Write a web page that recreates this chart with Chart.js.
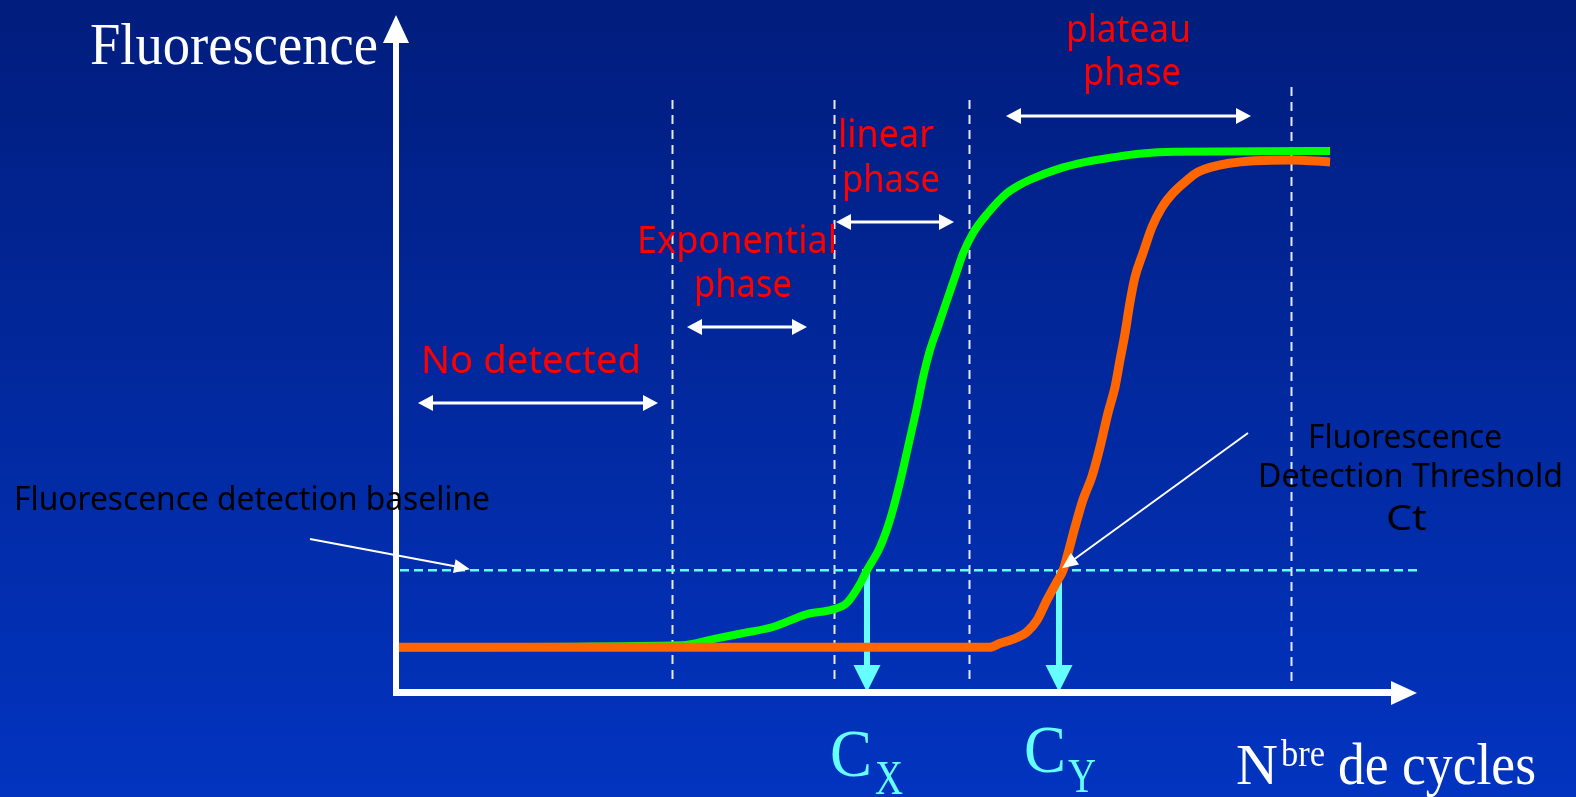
<!DOCTYPE html>
<html>
<head>
<meta charset="utf-8">
<script src="https://cdn.jsdelivr.net/npm/chart.js@4"></script>
<style>
  html, body { margin: 0; padding: 0; overflow: hidden; }
  canvas { display: block; }
</style>
</head>
<body>
<canvas id="pcrChart" width="1576" height="797"></canvas>
<script>
// amplification curves (cycle number, fluorescence in arbitrary units)
const greenCycles = [0, 11.22, 12.43, 13.49, 14.78, 16.12, 17.14, 17.69, 18.2, 18.47,
  18.98, 19.37, 19.76, 20.08, 20.43, 20.67, 20.94, 21.25, 21.61, 21.92,
  22.24, 22.63, 23.18, 23.96, 24.45, 24.94, 25.92, 27.06, 28.16, 29.14, 30.55, 36.63];
const greenValues = [6.6, 6.9, 7.8, 8.6, 9.6, 11.5, 12.2, 13.2, 16.0, 18.0,
  21.4, 25.4, 30.9, 36.2, 42.1, 46.5, 50.5, 53.9, 57.9, 61.3,
  64.8, 67.8, 70.6, 73.7, 74.9, 75.8, 77.2, 78.3, 79.0, 79.5, 79.8, 79.9];

const orangeCycles = [0, 23.29, 23.69, 24.2, 24.75, 25.14, 25.53, 25.92, 26.16, 26.31,
  26.63, 26.94, 27.29, 27.61, 27.92, 28.2, 28.39, 28.59, 28.78, 28.98,
  29.29, 29.65, 30.04, 30.47, 31.02, 31.45, 32.67, 35.06, 36.63];
const orangeValues = [6.6, 6.6, 7.2, 7.8, 8.9, 10.6, 13.6, 16.3, 18.0, 19.9,
  24.4, 28.4, 31.8, 36.2, 41.2, 45.1, 49.0, 53.0, 57.5, 61.3,
  64.8, 68.7, 71.6, 73.7, 75.6, 76.8, 78.1, 78.6, 78.3];

// phase boundaries, threshold and Ct (cycles / fluorescence)
const phaseBounds = [10.82, 17.18, 22.47, 35.1];
const threshold = 18;
const ctValues = [18.47, 26.0];
const ctNames = ["X", "Y"];

const redText = "#ff0000";
const cyan = "#66ffff";
const sans = "'Noto Sans', 'DejaVu Sans', sans-serif";
const serif = "'Liberation Serif', 'DejaVu Serif', serif";

function toPoints(xs, ys) {
  return xs.map((x, i) => ({ x: x, y: ys[i] }));
}

// draw text stretched to a given width (left edge, baseline)
function txt(ctx, s, x, y, w, font, color) {
  ctx.save();
  ctx.font = font;
  ctx.fillStyle = color;
  ctx.textAlign = "left";
  ctx.textBaseline = "alphabetic";
  const m = ctx.measureText(s).width;
  ctx.translate(x, y);
  ctx.scale(w / m, 1);
  ctx.fillText(s, 0, 0);
  ctx.restore();
}

function head(ctx, tx, ty, angle, len, half, color) {
  ctx.save();
  ctx.translate(tx, ty);
  ctx.rotate(angle);
  ctx.beginPath();
  ctx.moveTo(0, 0);
  ctx.lineTo(-len, -half);
  ctx.lineTo(-len, half);
  ctx.closePath();
  ctx.fillStyle = color;
  ctx.fill();
  ctx.restore();
}

function doubleArrow(ctx, x1, x2, y) {
  ctx.save();
  ctx.strokeStyle = "#ffffff";
  ctx.lineWidth = 3;
  ctx.beginPath();
  ctx.moveTo(x1 + 10, y);
  ctx.lineTo(x2 - 10, y);
  ctx.stroke();
  ctx.restore();
  head(ctx, x1, y, Math.PI, 15, 8, "#ffffff");
  head(ctx, x2, y, 0, 15, 8, "#ffffff");
}

function pointer(ctx, x1, y1, x2, y2) {
  const a = Math.atan2(y2 - y1, x2 - x1);
  ctx.save();
  ctx.strokeStyle = "#ffffff";
  ctx.lineWidth = 2;
  ctx.beginPath();
  ctx.moveTo(x1, y1);
  ctx.lineTo(x2 - 10 * Math.cos(a), y2 - 10 * Math.sin(a));
  ctx.stroke();
  ctx.restore();
  head(ctx, x2, y2, a, 16, 7, "#ffffff");
}

const background = {
  id: "background",
  beforeDraw(chart) {
    const ctx = chart.ctx;
    const g = ctx.createLinearGradient(0, 0, 0, chart.height);
    g.addColorStop(0, "#011d7d");
    g.addColorStop(1, "#0234c0");
    ctx.save();
    ctx.fillStyle = g;
    ctx.fillRect(0, 0, chart.width, chart.height);
    ctx.restore();
  }
};

const guides = {
  id: "guides",
  beforeDatasetsDraw(chart) {
    const ctx = chart.ctx;
    const xs = chart.scales.x, ys = chart.scales.y;
    const area = chart.chartArea;

    // phase boundaries
    ctx.save();
    ctx.strokeStyle = "rgba(255,255,255,0.9)";
    ctx.lineWidth = 2;
    ctx.setLineDash([9, 6]);
    phaseBounds.forEach((b, i) => {
      const px = Math.round(xs.getPixelForValue(b)) + 0.5;
      ctx.beginPath();
      ctx.moveTo(px, i === 3 ? 87 : 100);
      ctx.lineTo(px, 685);
      ctx.stroke();
    });
    ctx.restore();

    // threshold line
    const ty = ys.getPixelForValue(threshold);
    ctx.save();
    ctx.strokeStyle = cyan;
    ctx.lineWidth = 2.5;
    ctx.setLineDash([9, 5]);
    ctx.beginPath();
    ctx.moveTo(area.left + 4, ty);
    ctx.lineTo(1420, ty);
    ctx.stroke();
    ctx.restore();

    // Ct arrows
    ctValues.forEach(c => {
      const px = xs.getPixelForValue(c);
      ctx.save();
      ctx.fillStyle = cyan;
      ctx.fillRect(px - 3, ty, 6, area.bottom - 26 - ty);
      ctx.restore();
      head(ctx, px, area.bottom, Math.PI / 2, 27, 13.5, cyan);
    });
  },
  afterDatasetsDraw(chart) {
    const ctx = chart.ctx;
    const area = chart.chartArea;
    const ys = chart.scales.y, xs = chart.scales.x;

    // axes
    ctx.save();
    ctx.fillStyle = "#ffffff";
    ctx.fillRect(area.left - 3, 38, 6, area.bottom + 4 - 38);
    ctx.fillRect(area.left - 3, area.bottom - 3, 1395 - area.left, 7);
    ctx.restore();
    head(ctx, area.left, 15, -Math.PI / 2, 28, 13, "#ffffff");
    head(ctx, 1417, area.bottom + 1, 0, 26, 12, "#ffffff");

    // phase arrows
    doubleArrow(ctx, 418, 658, 403);
    doubleArrow(ctx, 687, 807, 327);
    doubleArrow(ctx, 836, 954, 222);
    doubleArrow(ctx, 1006, 1251, 116);

    // pointers
    const ty = ys.getPixelForValue(threshold);
    pointer(ctx, 310, 539, 470, ty - 1);
    pointer(ctx, 1248, 433, xs.getPixelForValue(ctValues[1]) + 3, ty - 2);

    // red phase labels
    const rf = "38px " + sans;
    txt(ctx, "plateau", 1066, 42, 125, rf, redText);
    txt(ctx, "phase", 1083, 85, 98, rf, redText);
    txt(ctx, "linear", 838, 147, 96, rf, redText);
    txt(ctx, "phase", 842, 192, 98, rf, redText);
    txt(ctx, "Exponential", 637, 253, 200, rf, redText);
    txt(ctx, "phase", 694, 297, 98, rf, redText);
    txt(ctx, "No detected", 421, 373, 220, rf, redText);

    // black notes
    const bf = "32px " + sans;
    txt(ctx, "Fluorescence detection baseline", 14, 510, 476, bf, "#000000");
    txt(ctx, "Fluorescence", 1308, 448, 194, bf, "#000000");
    txt(ctx, "Detection Threshold", 1258, 487, 305, bf, "#000000");
    txt(ctx, "Ct", 1386, 530, 41, "34px " + sans, "#000000");

    // axis titles
    txt(ctx, "Fluorescence", 90, 64, 288, "60px " + serif, "#ffffff");
    txt(ctx, "N", 1236, 784, 42, "58px " + serif, "#ffffff");
    txt(ctx, "bre", 1281, 766, 44, "38px " + serif, "#ffffff");
    txt(ctx, "de cycles", 1338, 784, 198, "60px " + serif, "#ffffff");

    // Ct labels
    const cLeft = [830, 1024];
    const cBase = [776, 772];
    const subLeft = [875, 1068];
    const subBase = [794, 792];
    ctNames.forEach((n, i) => {
      txt(ctx, "C", cLeft[i], cBase[i], 42, "68px " + serif, cyan);
      txt(ctx, n, subLeft[i], subBase[i], 28, "48px " + serif, cyan);
    });
  }
};

new Chart("pcrChart", {
  type: "line",
  data: {
    datasets: [
      {
        label: "Orange",
        data: toPoints(orangeCycles, orangeValues),
        borderColor: "#ff6600",
        borderWidth: 9,
        pointRadius: 0,
        cubicInterpolationMode: "monotone",
        fill: false,
        order: 0
      },
      {
        label: "Green",
        data: toPoints(greenCycles, greenValues),
        borderColor: "#00ff00",
        borderWidth: 8,
        pointRadius: 0,
        cubicInterpolationMode: "monotone",
        fill: false,
        order: 1
      }
    ]
  },
  options: {
    responsive: false,
    animation: false,
    events: [],
    layout: { padding: { left: 396, right: 160, top: 15, bottom: 105 } },
    scales: {
      x: { type: "linear", min: 0, max: 40, display: false },
      y: { type: "linear", min: 0, max: 100, display: false }
    },
    plugins: {
      legend: { display: false },
      tooltip: { enabled: false },
      title: { display: false }
    }
  },
  plugins: [background, guides]
});
</script>
</body>
</html>
